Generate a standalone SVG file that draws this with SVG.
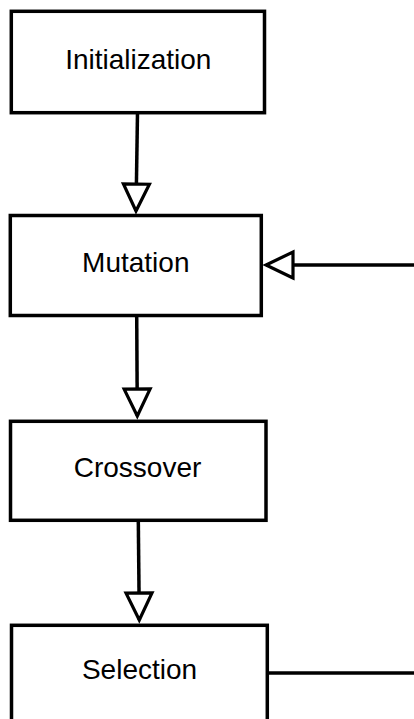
<svg xmlns="http://www.w3.org/2000/svg" width="414" height="719" viewBox="0 0 414 719">
  <style>
    .box { fill: #ffffff; stroke: #000000; stroke-width: 3.5; }
    .label { font-family: "Liberation Sans", Arial, Helvetica, sans-serif; font-size: 28px; fill: #000000; text-anchor: middle; }
    .edge { fill: none; stroke: #000000; stroke-width: 3.5; }
  </style>
  <defs>
    <!-- hollow triangle head, tip at the path end -->
    <marker id="hollow" markerUnits="userSpaceOnUse" viewBox="-32 -18 36 36" markerWidth="36" markerHeight="36" refX="0" refY="0" orient="auto" overflow="visible">
      <path d="M-27,-13 L0,0 L-27,13 Z" fill="#ffffff" stroke="#000000" stroke-width="3.2" stroke-linejoin="miter"/>
    </marker>
  </defs>

  <rect x="0" y="0" width="414" height="719" fill="#ffffff"/>

  <g id="connectors">
    <path class="edge" d="M137.5,112.5 L136,211" marker-end="url(#hollow)"/>
    <path class="edge" d="M136.7,315 L137.3,416" marker-end="url(#hollow)"/>
    <path class="edge" d="M138.3,520 L139.3,620" marker-end="url(#hollow)"/>
    <path class="edge" d="M414,265 L266,265" marker-end="url(#hollow)"/>
    <path class="edge" d="M267.3,673 L414,673"/>
  </g>

  <g id="initialization">
    <rect class="box" x="11.3" y="11.3" width="253.2" height="101.4"/>
    <text class="label" x="138.3" y="69">Initialization</text>
  </g>

  <g id="mutation">
    <rect class="box" x="10.3" y="215.5" width="251" height="100"/>
    <text class="label" x="135.8" y="271.7">Mutation</text>
  </g>

  <g id="crossover">
    <rect class="box" x="10.5" y="421.3" width="255.5" height="99"/>
    <text class="label" x="137.5" y="476.7">Crossover</text>
  </g>

  <g id="selection">
    <rect class="box" x="11.5" y="625.3" width="255.8" height="120"/>
    <text class="label" x="139.5" y="679.3">Selection</text>
  </g>
</svg>
